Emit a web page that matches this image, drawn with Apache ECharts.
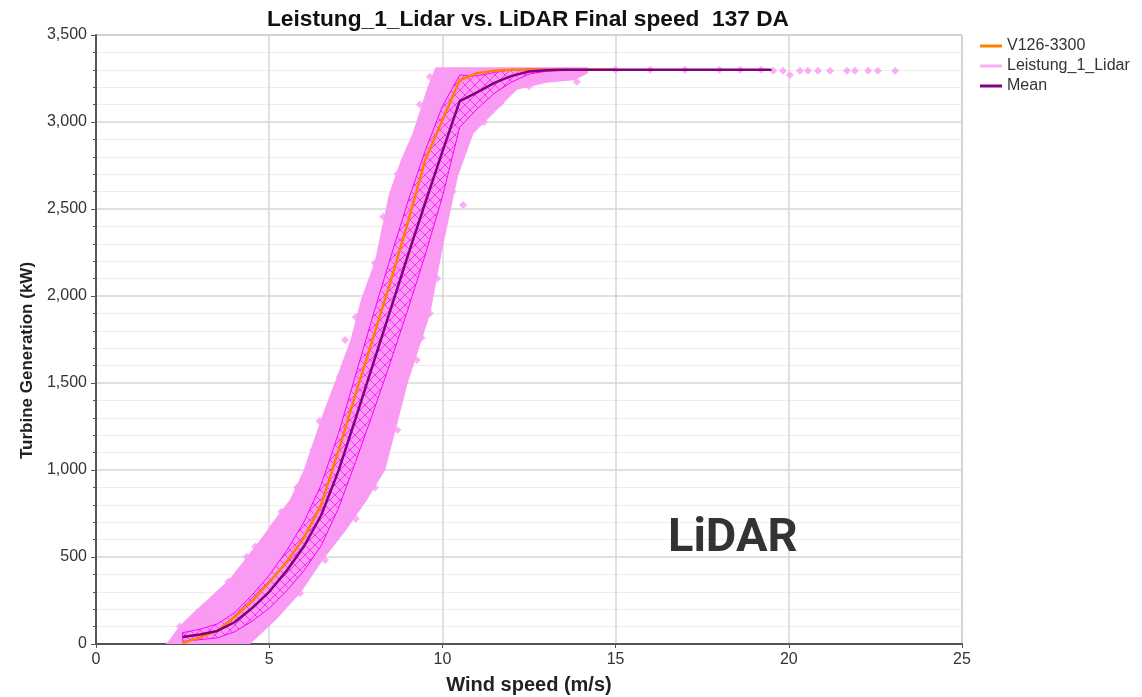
<!DOCTYPE html>
<html>
<head>
<meta charset="utf-8">
<script src="https://cdn.jsdelivr.net/npm/echarts@6/dist/echarts.min.js"></script>
<style>
  html, body { margin: 0; padding: 0; background: #fff; }
  #main { width: 1142px; height: 697px; }
</style>
</head>
<body>
<div id="main"></div>
<script>
// bins (m/s) for the manufacturer curve, the mean and its spread
const binSpeeds = [2.5, 3, 3.5, 4, 4.5, 5, 5.5, 6, 6.5, 7, 7.5, 8, 8.5, 9, 9.5, 10,
  10.5, 11, 11.5, 12, 12.5, 13, 13.5];
const turbineCurve = [5, 38, 75, 155, 245, 355, 470, 610, 800, 1110, 1440, 1760, 2080, 2420, 2780, 3010,
  3240, 3280, 3295, 3300, 3300, 3300, 3300];
const meanCurve = [40, 55, 75, 125, 205, 300, 420, 560, 740, 995, 1300, 1610, 1920, 2230, 2533, 2830,
  3120, 3170, 3225, 3265, 3290, 3298, 3300];
const meanStd = [25, 30, 40, 55, 75, 95, 115, 140, 175, 215, 250, 280, 300, 310, 300, 260,
  150, 95, 60, 35, 15, 6, 2];
// flat tail of the two curves
const tailSpeeds = [14, 15, 16, 17, 18, 19, 19.5];
const tailMean = [3300, 3300, 3300, 3300, 3300, 3300, 3300];
const tailTurbine = [3300, 3300];

// outline of the dense Leistung_1_Lidar cloud (left/upper edge, then right/lower edge)
const cloudUpperEdge = [[2.0, 0], [2.15, 30], [2.3, 75], [2.5, 120], [2.8, 180], [3.3, 270], [3.85, 370],
  [4.35, 500], [4.75, 600], [5.1, 700], [5.6, 830], [6.0, 1000], [6.25, 1150], [6.6, 1350], [7.0, 1560],
  [7.35, 1750], [7.65, 1980], [8.05, 2200], [8.45, 2580], [8.8, 2780], [9.15, 2940], [9.55, 3190], [9.8, 3315]];
const cloudLowerEdge = [[14.2, 3315], [14.2, 3280], [13.8, 3240], [13.0, 3225], [12.15, 3185], [11.6, 3075],
  [10.9, 2935], [10.45, 2690], [10.0, 2270], [9.65, 1900], [9.0, 1500], [8.35, 1000], [7.8, 820],
  [7.2, 650], [6.55, 483], [5.9, 293], [5.2, 140], [4.45, 0]];
// loose points around the cloud and along the 3,300 kW cap
const loosePoints = [[2.23, 23], [2.42, 100], [2.91, 176], [3.82, 358], [4.35, 502], [6.27, 1115],
  [7.04, 1536], [7.19, 1747], [8.1, 2188], [8.29, 2456], [8.05, 2190], [8.49, 1326], [9.26, 1632],
  [9.64, 1900], [10.6, 2523], [9.64, 3260], [11.47, 3088], [11.66, 3107], [13.0, 3251], [13.88, 3232],
  [5.89, 291], [6.61, 483], [3.87, 358], [4.6, 560], [5.35, 760], [5.8, 900], [6.45, 1280],
  [7.5, 1880], [8.7, 2700], [9.35, 3100], [7.5, 720], [8.05, 900], [8.7, 1230], [9.4, 1760],
  [9.85, 2100], [10.3, 2600], [11.2, 3000], [12.5, 3205], [3.2, 100], [3.9, 80], [4.2, 30],
  [15, 3300], [16, 3300], [17, 3300], [18, 3300], [18.6, 3300], [19.2, 3300],
  [19.55, 3295], [19.83, 3295], [20.03, 3270], [20.32, 3295], [20.55, 3295], [20.84, 3295], [21.19, 3295],
  [21.68, 3295], [21.91, 3295], [22.29, 3295], [22.57, 3295], [23.07, 3295]];

const chart = echarts.init(document.getElementById('main'), null, { renderer: 'canvas' });

const FONT = 'Liberation Sans';
const textColor = '#333';

// crosshatch used for the +/- std band
const hatch = document.createElement('canvas');
hatch.width = 10;
hatch.height = 10;
const hctx = hatch.getContext('2d');
hctx.strokeStyle = '#ff2cff';
hctx.lineWidth = 1;
hctx.beginPath();
hctx.moveTo(0, 0); hctx.lineTo(10, 10);
hctx.moveTo(10, 0); hctx.lineTo(0, 10);
hctx.stroke();

const cloudOutline = cloudUpperEdge.concat(cloudLowerEdge);
const bandUpper = binSpeeds.map((s, i) => [s, meanCurve[i] + meanStd[i]]);
const bandLower = binSpeeds.map((s, i) => [s, Math.max(0, meanCurve[i] - meanStd[i])]);
const bandOutline = bandUpper.concat(bandLower.slice().reverse());

function polygonSeries(points, style, z) {
  return {
    type: 'custom',
    coordinateSystem: 'cartesian2d',
    silent: true,
    clip: true,
    z: z,
    encode: { x: 0, y: 1 },
    data: points,
    renderItem: function (params, api) {
      if (params.dataIndex !== 0) return null;
      return {
        type: 'polygon',
        shape: { points: points.map(p => api.coord(p)) },
        style: style
      };
    }
  };
}

const option = {
  animation: false,
  title: {
    text: 'Leistung_1_Lidar vs. LiDAR Final speed  137 DA',
    left: 262,
    top: 3,
    textStyle: { fontFamily: FONT, fontSize: 22.7, fontWeight: 'bold', color: '#111' }
  },
  legend: {
    orient: 'vertical',
    left: 975,
    top: 33,
    icon: 'rect',
    itemWidth: 22,
    itemHeight: 3,
    itemGap: 4,
    selectedMode: false,
    data: ['V126-3300', 'Leistung_1_Lidar', 'Mean'],
    textStyle: { fontFamily: FONT, fontSize: 16, color: textColor }
  },
  grid: {
    left: 96, right: 180, top: 35, bottom: 53,
    outerBoundsMode: 'none',
    show: true,
    borderColor: '#a0a0a0',
    borderWidth: 1
  },
  xAxis: {
    type: 'value',
    min: 0, max: 25, interval: 5,
    name: 'Wind speed (m/s)',
    nameLocation: 'middle',
    nameGap: 31,
    nameTextStyle: { fontFamily: FONT, fontSize: 20, fontWeight: 'bold', color: '#222' },
    axisLine: { onZero: false, lineStyle: { color: '#555', width: 2 } },
    axisTick: { show: true, length: 4, lineStyle: { color: '#555' } },
    axisLabel: { fontFamily: FONT, fontSize: 16, color: textColor, margin: 8 },
    splitLine: { show: true, lineStyle: { color: '#d6d6d6', width: 1.5 } }
  },
  yAxis: {
    type: 'value',
    min: 0, max: 3500, interval: 500,
    name: 'Turbine Generation (kW)',
    nameLocation: 'middle',
    nameGap: 54,
    nameTextStyle: {
      fontFamily: FONT, fontSize: 17, fontWeight: 'bold', color: '#222',
      padding: [0, 42, 0, 0]
    },
    axisLine: { show: true, onZero: false, lineStyle: { color: '#555', width: 2 } },
    axisTick: { show: true, length: 5, lineStyle: { color: '#555' } },
    minorTick: { show: true, splitNumber: 5, length: 3, lineStyle: { color: '#555' } },
    axisLabel: {
      fontFamily: FONT, fontSize: 16, color: textColor, margin: 9,
      formatter: v => v.toLocaleString('en-US')
    },
    splitLine: { show: true, lineStyle: { color: '#d6d6d6', width: 1.5 } },
    minorSplitLine: { show: true, lineStyle: { color: '#ededed', width: 1 } }
  },
  series: [
    {
      name: 'Leistung_1_Lidar',
      type: 'scatter',
      symbol: 'diamond',
      symbolSize: 8,
      z: 3,
      itemStyle: { color: '#f99bf3' },
      data: loosePoints
    },
    polygonSeries(cloudOutline, { fill: '#f99bf3' }, 2),
    polygonSeries(bandOutline, {
      fill: { image: hatch, repeat: 'repeat' },
      stroke: '#ff00ff',
      lineWidth: 1
    }, 4),
    {
      name: 'V126-3300',
      type: 'line',
      z: 5,
      showSymbol: false,
      lineStyle: { color: '#ff8000', width: 2.5 },
      itemStyle: { color: '#ff8000' },
      data: binSpeeds.concat([14, 15]).map((s, i) => [s, turbineCurve.concat(tailTurbine)[i]])
    },
    {
      name: 'Mean',
      type: 'line',
      z: 6,
      showSymbol: false,
      lineStyle: { color: '#800080', width: 2.5 },
      itemStyle: { color: '#800080' },
      data: binSpeeds.concat(tailSpeeds).map((s, i) => [s, meanCurve.concat(tailMean)[i]])
    }
  ],
  graphic: [
    {
      type: 'text',
      left: 668,
      top: 516,
      z: 10,
      style: { text: 'LiDAR', font: 'bold 47px Roboto', fill: '#333' }
    }
  ]
};

chart.setOption(option);
</script>
</body>
</html>
